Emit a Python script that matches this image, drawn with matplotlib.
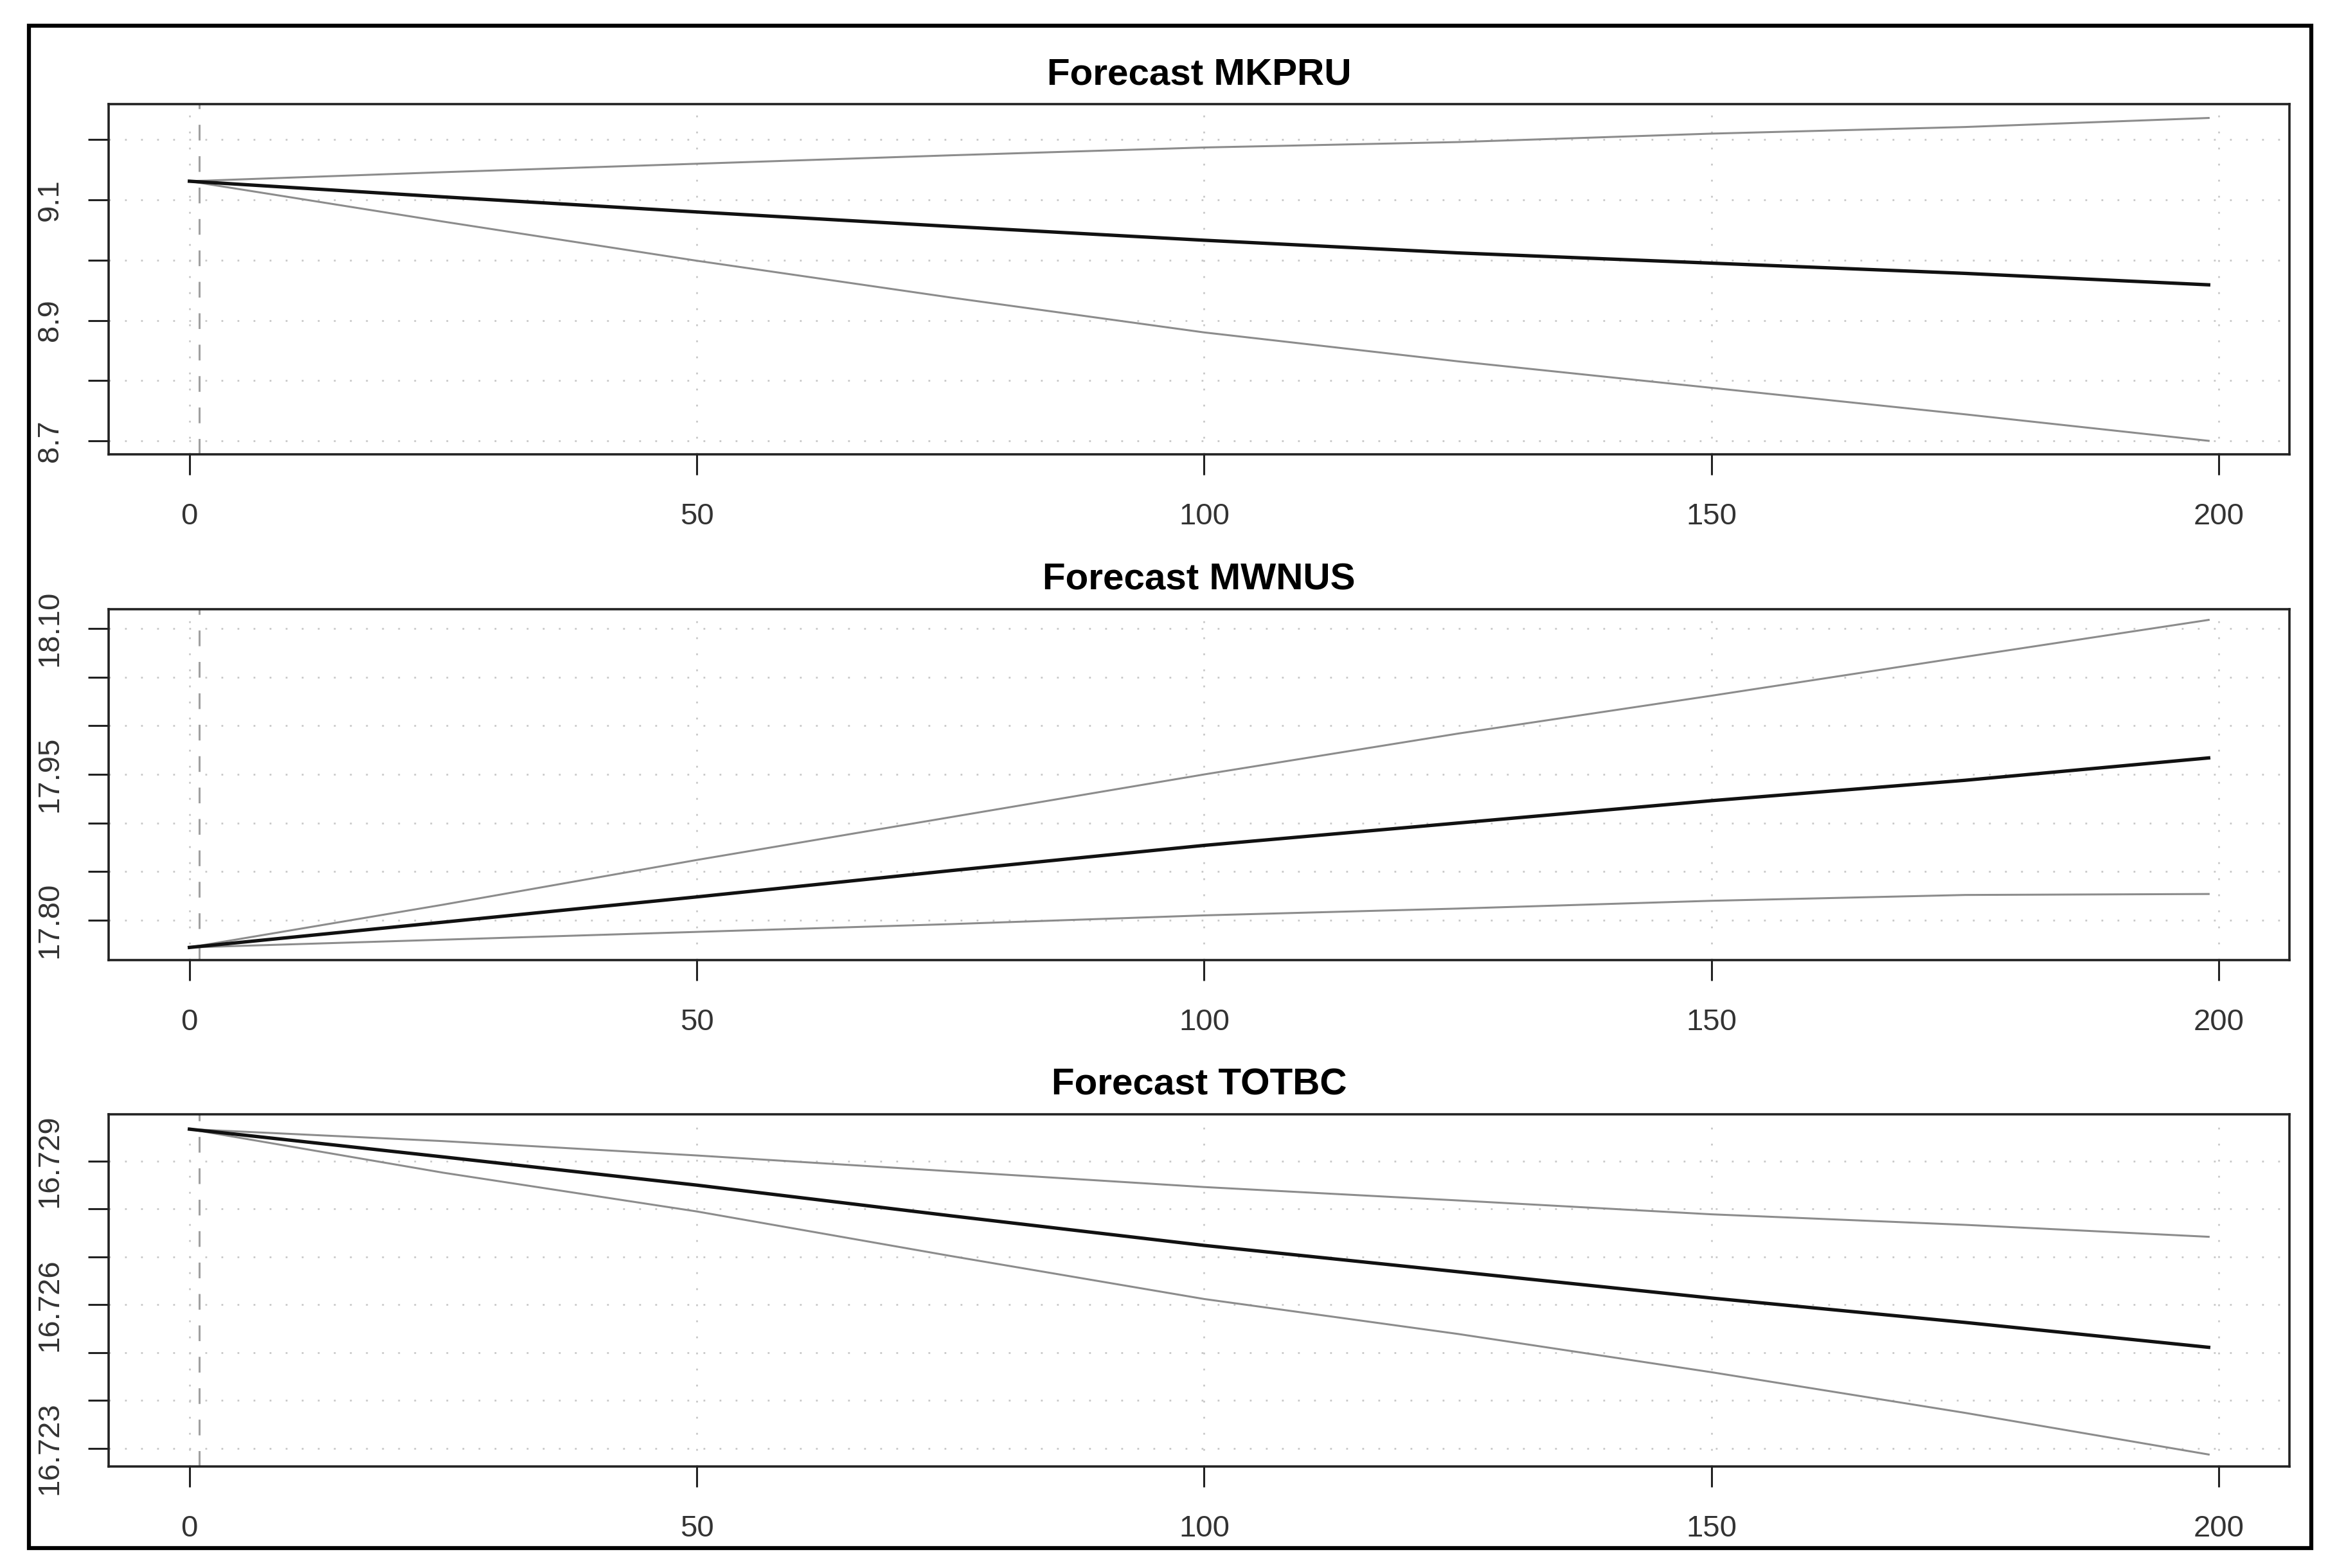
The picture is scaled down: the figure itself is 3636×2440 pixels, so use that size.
import matplotlib
matplotlib.use("Agg")
import matplotlib.pyplot as plt
from matplotlib.ticker import FixedLocator, FixedFormatter
from matplotlib.patches import Rectangle

plt.rcParams['font.family'] = ['Liberation Sans', 'DejaVu Sans']

# ---------------- data ----------------
steps = [0, 25, 50, 75, 100, 125, 150, 175, 199]

titles = ["Forecast MKPRU", "Forecast MWNUS", "Forecast TOTBC"]

mkpru_fcst  = [9.131, 9.105, 9.080, 9.056, 9.033, 9.012, 8.995, 8.978, 8.959]
mkpru_lower = [9.131, 9.064, 8.999, 8.938, 8.880, 8.832, 8.788, 8.744, 8.700]
mkpru_upper = [9.131, 9.146, 9.160, 9.174, 9.187, 9.196, 9.210, 9.221, 9.236]

mwnus_fcst  = [17.772, 17.798, 17.824, 17.851, 17.877, 17.900, 17.923, 17.944, 17.967]
mwnus_lower = [17.772, 17.780, 17.788, 17.796, 17.805, 17.812, 17.820, 17.826, 17.827]
mwnus_upper = [17.772, 17.816, 17.862, 17.906, 17.950, 17.992, 18.031, 18.071, 18.109]

totbc_fcst  = [16.72967, 16.72909, 16.72850, 16.72786, 16.72724, 16.72669, 16.72614, 16.72563, 16.72511]
totbc_lower = [16.72967, 16.72876, 16.72795, 16.72702, 16.72612, 16.72539, 16.72459, 16.72374, 16.72287]
totbc_upper = [16.72967, 16.72942, 16.72912, 16.72879, 16.72846, 16.72818, 16.72789, 16.72767, 16.72742]

x_ticks = [0, 50, 100, 150, 200]
x_tick_labels = ["0", "50", "100", "150", "200"]

y_ticks = [
    [8.7, 8.8, 8.9, 9.0, 9.1, 9.2],
    [17.80, 17.85, 17.90, 17.95, 18.00, 18.05, 18.10],
    [16.723, 16.724, 16.725, 16.726, 16.727, 16.728, 16.729],
]
y_tick_labels = [
    ["8.7", "", "8.9", "", "9.1", ""],
    ["17.80", "", "", "17.95", "", "", "18.10"],
    ["16.723", "", "", "16.726", "", "", "16.729"],
]
y_limits = [(8.6776, 9.259), (17.759, 18.120), (16.72262, 16.72998)]

series = [
    (mkpru_fcst, mkpru_lower, mkpru_upper),
    (mwnus_fcst, mwnus_lower, mwnus_upper),
    (totbc_fcst, totbc_lower, totbc_upper),
]

# ---------------- layout ----------------
W, H = 3636, 2440
fig = plt.figure(figsize=(W / 100, H / 100), dpi=100)
fig.patch.set_facecolor("white")

left, right = 169 / W, 3562 / W
panel_px = [(162, 707), (948, 1494), (1734, 2282)]

axis_col = "#222222"
text_col = "#333333"
gray_line = "#8c8c8c"

for i, (top, bot) in enumerate(panel_px):
    ax = fig.add_axes([left, 1 - bot / H, right - left, (bot - top) / H])
    fc, lo, up = series[i]

    ax.set_xlim(-7.96, 206.96)
    ax.set_ylim(*y_limits[i])

    # grid
    for xv in x_ticks:
        ax.axvline(xv, color="#c8c8c8", lw=2.0, linestyle=(0, (1, 8)), zorder=1)
    for yv in y_ticks[i]:
        ax.axhline(yv, color="#c8c8c8", lw=2.0, linestyle=(0, (1, 8)), zorder=1)
    # dashed separator
    ax.axvline(1, color="#a0a0a0", lw=2.2, linestyle=(0, (8, 8)), zorder=1)

    ax.plot(steps, up, color=gray_line, lw=2.2, zorder=3)
    ax.plot(steps, lo, color=gray_line, lw=2.2, zorder=3)
    ax.plot(steps, fc, color="#111111", lw=3.8, zorder=4)

    ax.xaxis.set_major_locator(FixedLocator(x_ticks))
    ax.xaxis.set_major_formatter(FixedFormatter(x_tick_labels))
    ax.yaxis.set_major_locator(FixedLocator(y_ticks[i]))
    ax.yaxis.set_major_formatter(FixedFormatter(y_tick_labels[i]))

    ax.tick_params(axis="both", direction="out", length=23, width=2.2,
                   color=axis_col, labelsize=34, labelcolor=text_col)
    ax.tick_params(axis="x", pad=31)
    ax.tick_params(axis="y", pad=27)
    for lab in ax.get_yticklabels():
        lab.set_rotation(90)
        lab.set_va("center")

    for sp in ax.spines.values():
        sp.set_linewidth(2.6)
        sp.set_color(axis_col)

    ax.set_title(titles[i], fontsize=42, fontweight="bold", color="black", pad=22)

# outer frame
fig.patches.append(Rectangle((45 / W, 1 - 2409 / H), (3596 - 45) / W, (2409 - 40) / H,
                             transform=fig.transFigure, fill=False,
                             edgecolor="black", linewidth=4.5))

fig.savefig("out.png", dpi=100, facecolor="white")
